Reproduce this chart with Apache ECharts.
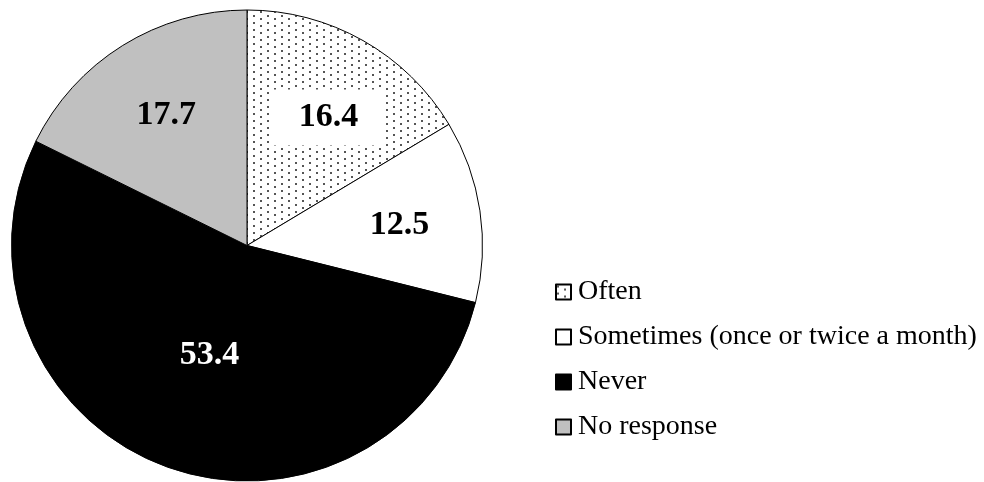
<!DOCTYPE html>
<html>
<head>
<meta charset="utf-8">
<script src="https://cdn.jsdelivr.net/npm/echarts@6/dist/echarts.min.js"></script>
<style>
  html, body { margin: 0; padding: 0; background: #fff; }
  #chart { width: 984px; height: 482px; }
</style>
</head>
<body>
<div id="chart"></div>
<script>
// chart data
var categories = ['Often', 'Sometimes (once or twice a month)', 'Never', 'No response']
var values = [16.4, 12.5, 53.4, 17.7]

// dotted fill for "Often"
function dotPattern () {
  var c = document.createElement('canvas')
  c.width = 14
  c.height = 7
  var ctx = c.getContext('2d')
  ctx.fillStyle = '#fff'
  ctx.fillRect(0, 0, 14, 7)
  ctx.fillStyle = '#555'
  ctx.fillRect(1, 1, 2, 2)
  ctx.fillRect(8, 4, 2, 2)
  return c
}

var fills = [
  { image: dotPattern(), repeat: 'repeat' },
  '#ffffff',
  '#000000',
  '#c0c0c0'
]
var labelColors = ['#000', '#000', '#fff', '#000']
var labelOffsets = [[22, -23], [33, -3], [4, -4], [-17, -28]]

var chart = echarts.init(document.getElementById('chart'), null, { renderer: 'canvas' })

var seriesData = categories.map(function (name, i) {
  var item = {
    name: name,
    value: values[i],
    itemStyle: { color: fills[i] },
    label: { color: labelColors[i], offset: labelOffsets[i] }
  }
  if (i === 0) {
    item.label.backgroundColor = '#fff'
    item.label.padding = [11, 25]
  }
  return item
})

var option = {
  animation: false,
  legend: {
    orient: 'vertical',
    left: 550,
    top: 272,
    itemWidth: 15,
    itemHeight: 15,
    itemGap: 15,
    icon: 'rect',
    data: categories,
    textStyle: {
      fontFamily: 'Liberation Serif',
      fontSize: 28,
      lineHeight: 30,
      color: '#000',
      padding: [0, 0, 0, 2]
    }
  },
  series: [
    {
      type: 'pie',
      center: [247, 245.5],
      radius: 235.5,
      startAngle: 90,
      clockwise: true,
      silent: true,
      itemStyle: {
        borderColor: '#000',
        borderWidth: 1
      },
      label: {
        show: true,
        position: 'inside',
        fontFamily: 'Liberation Serif',
        fontWeight: 'bold',
        fontSize: 34,
        formatter: function (p) { return p.value.toFixed(1) }
      },
      labelLine: { show: false },
      data: seriesData
    }
  ]
}

chart.setOption(option)
</script>
</body>
</html>
